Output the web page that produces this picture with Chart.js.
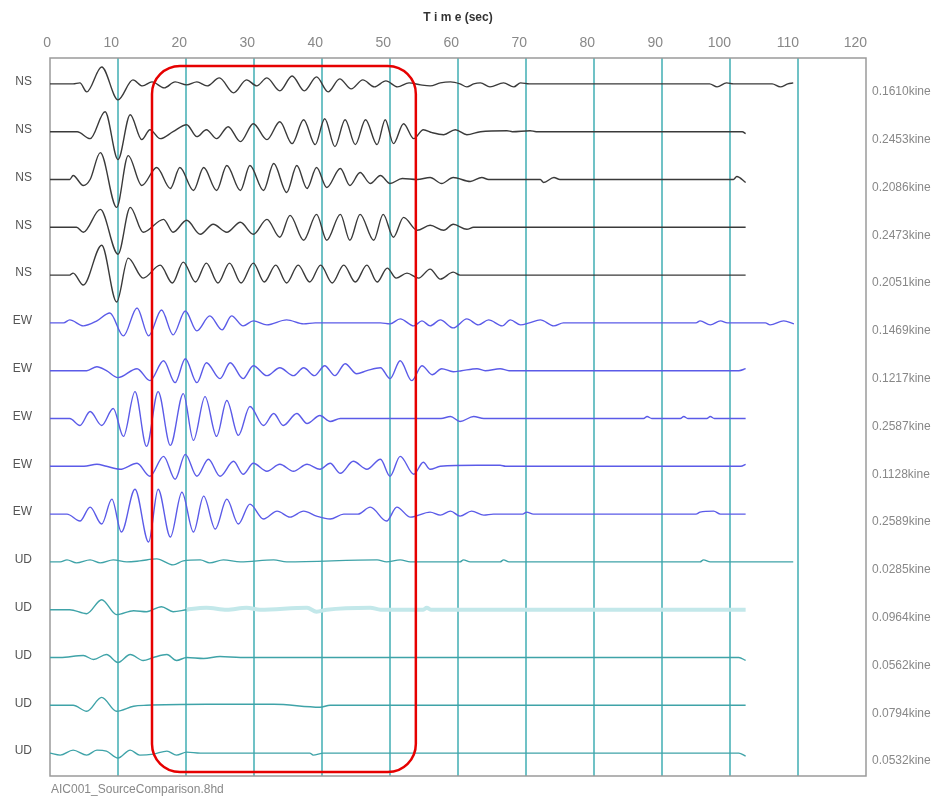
<!DOCTYPE html>
<html>
<head>
<meta charset="utf-8">
<script src="https://cdn.jsdelivr.net/npm/chart.js@4.4.0/dist/chart.umd.min.js"></script>
<style>
  html, body { margin: 0; padding: 0; background: #fff; }
  #wrap { position: relative; width: 942px; height: 805px; }
</style>
</head>
<body>
<div id="wrap"><canvas id="chart"></canvas></div>
<script>
// Трассы: пары [время, сек ; отклонение от нулевой линии]
const ns1 = [[0,0],[3.4,0],[4.4,1],[5.4,-8],[7.6,17],[10,-16],[12.2,4],[13.6,-2],[15,2],[16.8,-4],[18.4,2],[20.1,-1],[21.6,2],[23.1,-2],[24.9,6],[27,-9],[28.9,4],[30.4,-2],[31.9,6],[33.8,-7],[35.6,8],[37.4,-7],[39.2,7],[40.9,-8],[42.6,5],[44.3,-5],[46,4],[47.7,-3],[49.4,3],[51.1,-3],[52.8,1],[54.5,-1],[55.9,-2],[57.4,1],[58.9,2],[60.3,0],[61.3,-3],[62.3,0],[63.3,1],[64.7,-3],[66.7,1],[68.2,-3],[69.2,1],[70.5,0],[97,0],[98.1,-3],[99.5,1],[100.5,0],[106.2,0],[107.4,-3],[108.5,0],[109.3,1]];
const ns2 = [[0,0],[4,0],[5.9,-7],[8.1,20],[10,-28],[11.8,17],[13.5,-8],[14.7,2],[16.2,-7],[18.1,0],[20.1,7],[21.6,-5],[23,2],[24.5,-7],[26.2,5],[28,-10],[29.9,8],[31.9,-8],[33.8,10],[35.6,-12],[37.3,12],[39,-13],[40.4,13],[41.9,-15],[43.4,12],[44.9,-13],[46.4,12],[48.1,-13],[49.3,12],[50.5,-12],[52,8],[53.5,-7],[54.9,2],[56.2,-1],[57.9,-3],[59.6,2],[61.3,-3],[63.3,0],[67.2,1],[68,0],[70.6,1],[71.5,0],[101.8,0],[102.3,-2]];
const ns3 = [[0,0],[2.9,0],[3.4,4],[4.9,-6],[5.9,0],[7.4,27],[9.8,-28],[11.5,24],[13.5,-6],[15.7,12],[17.7,-9],[19.1,12],[21.1,-11],[22.6,12],[24.5,-11],[26,14],[28,-11],[29.4,14],[31.4,-11],[32.9,16],[34.8,-13],[36.3,14],[37.8,-9],[39.2,12],[40.7,-8],[42.7,11],[44.1,-6],[45.6,7],[47.1,-4],[48.6,4],[50,-4],[51.8,1],[54,0],[55.9,2],[57.6,-4],[59.3,2],[61.8,-2],[63.5,2],[64.5,0],[72.1,0],[72.6,-3],[74.1,2],[75,0],[100.5,0],[101,3],[102.3,-3]];
const ns4 = [[0,0],[3.9,0],[4.9,-5],[7.4,18],[10,-27],[11.8,20],[13.7,-5],[16.7,8],[18.1,-5],[20.1,7],[22.1,-7],[24,3],[26,-5],[28,5],[29.9,-7],[31.9,8],[33.8,-10],[35.3,12],[37.3,-13],[39.2,13],[40.7,-13],[42.7,13],[44.1,-13],[45.6,13],[47.6,-13],[49,13],[50.5,-10],[52,10],[54,-3],[55.9,2],[57.9,-3],[59.3,3],[61.3,-2],[62.3,0],[102.3,0]];
const ns5 = [[0,0],[2.9,0],[3.4,2],[4.9,-10],[7.6,30],[9.8,-27],[11.5,17],[13.7,-3],[16.2,10],[18,-8],[19.6,13],[21.4,-7],[23,12],[24.7,-8],[26.4,12],[28.1,-8],[29.9,12],[31.5,-7],[33.2,10],[34.8,-8],[36.5,10],[38.2,-7],[39.8,10],[41.5,-8],[43.2,10],[44.9,-7],[46.6,10],[48.1,-7],[49.6,7],[50.9,-3],[52.5,2],[54.2,-3],[55.9,6],[57.4,-4],[59.3,3],[60.3,0],[102.3,0]];
const ew1 = [[0,0],[2,0],[2.9,3],[4.9,-3],[6.9,2],[8.8,10],[10.8,-13],[12.8,15],[14.5,-13],[16.4,13],[18.1,-12],[19.9,12],[21.6,-8],[23.5,7],[25.3,-7],[26.7,7],[28.4,-3],[29.9,2],[31.9,-2],[34.8,3],[37.3,-1],[39,0],[48.6,0],[50,-1],[51.5,4],[53.5,-3],[54.7,2],[55.9,-3],[57.4,3],[59.3,-5],[61.3,4],[63,-2],[64.5,3],[66.5,-3],[67.7,3],[69.2,-2],[70.5,0],[72.1,3],[74.1,-3],[75.5,0],[95,0],[95.6,2],[97.1,-2],[98.6,2],[99.6,0],[105.2,0],[105.9,-2],[107.9,2],[109.4,-1]];
const ew2 = [[0,0],[5.4,0],[6.9,4],[8.3,0],[10,-7],[12.8,2],[14.7,-10],[16.7,10],[18.4,-12],[19.9,12],[21.6,-12],[23,8],[25,-8],[26.5,8],[28.4,-8],[29.9,5],[31.9,-5],[33.8,3],[35.8,-5],[37.3,3],[38.9,-5],[40.4,5],[41.9,-5],[43.4,7],[45.1,-3],[46.6,0],[48.6,3],[50,-8],[51.5,10],[53.2,-10],[54.7,5],[56.2,-4],[57.6,2],[59.3,-1],[60.5,0],[62.8,2],[64,0],[66.2,2],[67.5,0],[101.3,0],[102.3,2]];
const ew3 = [[0,0],[2.9,0],[4.4,-7],[5.9,7],[7.6,-7],[9.3,10],[10.8,-18],[12.5,27],[14.2,-28],[15.9,27],[17.7,-27],[19.6,25],[21.1,-22],[22.8,22],[24.5,-18],[26,18],[27.7,-17],[29.4,12],[31.4,-7],[32.9,5],[34.3,-7],[36.3,5],[37.8,-5],[39.7,3],[41.2,-3],[42.7,0],[57.5,0],[58.9,2],[60.3,-3],[62.3,2],[63.8,0],[87.3,0],[87.8,2],[88.5,0],[92.7,0],[93.2,2],[93.8,0],[96.6,0],[97.1,2],[97.7,0],[102.3,0]];
const ew4 = [[0,0],[5,0],[6.9,2],[8.3,0],[10.3,-3],[12.8,3],[14.7,-10],[16.7,10],[18.4,-13],[19.9,12],[21.6,-10],[23.3,7],[25,-10],[27,5],[28.4,-8],[29.9,3],[31.9,-5],[33.8,2],[35.8,-5],[37.8,2],[39.7,-3],[41.2,3],[42.7,-7],[44.6,5],[46.6,-3],[48.6,7],[50,-10],[51.5,10],[53.5,-8],[54.9,4],[55.9,-3],[57.4,0],[62.8,1],[66.2,1],[67,0],[101.6,0],[102.3,2]];
const ew5 = [[0,0],[2.5,0],[4.4,-7],[5.9,7],[7.6,-10],[9.1,15],[10.5,-18],[12.5,25],[14.5,-28],[15.9,25],[17.7,-23],[19.4,22],[21.1,-18],[22.6,18],[24.3,-15],[26,15],[27.7,-10],[29.4,10],[31.4,-5],[33.4,3],[35.3,-3],[37.3,3],[39.2,-2],[41.2,-5],[43.2,0],[45.3,0],[47.1,7],[49.5,-7],[51,7],[53,-3],[55.9,2],[57.4,-1],[58.9,3],[60.3,-2],[62,3],[63.8,-1],[65.2,0],[69.5,0],[70.1,2],[71.1,0],[95,0],[95.6,2],[97.6,3],[98.6,0],[102.3,0]];
const ud1 = [[0,0],[1.5,0],[2.5,2],[3.9,-1],[5.9,2],[7.4,-1],[9.3,2],[11.3,0],[13.2,1],[15.7,3],[18.1,-3],[19.6,1],[22.1,2],[23.5,-1],[25.5,2],[28,0],[32.9,2],[34.8,0],[48.1,2],[49.5,0],[51.5,2],[53,0],[60.3,0],[60.8,2],[61.8,0],[66.2,0],[66.7,2],[67.5,0],[95.6,0],[96.1,2],[97.1,0],[109.3,0]];
const ud2 = [[0,0],[2.9,0],[5.4,-4],[7.6,10],[9.8,-5],[12.3,-1],[14.2,-2],[16.4,3],[18.1,-2],[20.1,0],[23,2],[26,0],[28.9,2],[30.9,0],[37.8,2],[39.2,-2],[40.7,0],[47.1,2],[48.6,0],[54.9,0],[55.4,2],[56,0],[102.3,0]];
const ud3 = [[0,0],[1.5,0],[4.9,2],[6.4,-2],[8.3,3],[10,-5],[11.8,3],[13.7,-3],[15.2,0],[17.2,3],[18.6,-3],[20.1,0],[22.6,-1],[25,1],[28,0],[101.3,0],[102.3,-3]];
const ud4 = [[0,0],[3.4,0],[5.4,-6],[7.6,8],[9.8,-6],[12.3,-1],[14.2,0],[23,1],[32.9,1],[39.7,-2],[41.2,0],[102.3,0]];
const ud5 = [[0,0],[1.5,-2],[3.4,3],[5.4,-2],[6.9,3],[8.3,2],[10,-5],[11.8,3],[13.2,-2],[15.2,-1],[17.2,2],[18.6,-2],[20.1,1],[22.1,0],[38.2,0],[38.7,-2],[40.2,0],[101.3,0],[102.3,-3]];

const traces = [ns1, ns2, ns3, ns4, ns5, ew1, ew2, ew3, ew4, ew5, ud1, ud2, ud3, ud4, ud5];
const components = ['NS','NS','NS','NS','NS','EW','EW','EW','EW','EW','UD','UD','UD','UD','UD'];
const peakLabels = ['0.1610kine','0.2453kine','0.2086kine','0.2473kine','0.2051kine',
  '0.1469kine','0.1217kine','0.2587kine','0.1128kine','0.2589kine',
  '0.0285kine','0.0964kine','0.0562kine','0.0794kine','0.0532kine'];
const timeTicks = [0,10,20,30,40,50,60,70,80,90,100,110,120];

const SPACING = 48; // шаг между нулевыми линиями трасс
const colors = { NS: '#3a3a3a', EW: '#5b5be8', UD: '#3fa3a8' };

// Выделение красной рамкой
const highlight = { t0: 15.0, t1: 53.8, top: 18, bottom: -691, radius: 28 };

const datasets = traces.map((tr, i) => ({
  label: components[i] + ' ' + peakLabels[i],
  data: tr.map(([t, a]) => ({ x: t, y: a - SPACING * i })),
  borderColor: colors[components[i]],
  borderWidth: 1.4,
  pointRadius: 0,
  fill: false,
  cubicInterpolationMode: 'monotone'
}));
// вторая UD трасса нарисована толстой бледной линией
datasets[11].segment = {
  borderColor: c => c.p0.parsed.x >= 20 ? '#c3e8ea' : undefined,
  borderWidth: c => c.p0.parsed.x >= 20 ? 4 : undefined
};

const traceTicks = axis => {
  axis.ticks = traces.map((_, i) => ({ value: -SPACING * i }));
};
const traceIndex = v => Math.round(-v / SPACING);

const framePlugin = {
  id: 'frame',
  beforeDatasetsDraw(chart) {
    const { ctx, chartArea: a } = chart;
    ctx.save();
    ctx.strokeStyle = '#9a9a9a';
    ctx.lineWidth = 1.5;
    ctx.strokeRect(a.left, a.top, a.right - a.left, a.bottom - a.top);
    ctx.restore();
  },
  afterDraw(chart) {
    const { ctx, chartArea: a, scales } = chart;
    ctx.save();
    // подпись файла
    ctx.fillStyle = '#888';
    ctx.font = '12px "Liberation Sans", Arial, sans-serif';
    ctx.textBaseline = 'middle';
    ctx.fillText('AIC001_SourceComparison.8hd', a.left + 1, a.bottom + 14);
    // красная рамка
    const x0 = scales.x.getPixelForValue(highlight.t0);
    const x1 = scales.x.getPixelForValue(highlight.t1);
    const y0 = scales.y.getPixelForValue(highlight.top);
    const y1 = scales.y.getPixelForValue(highlight.bottom);
    ctx.strokeStyle = '#e60000';
    ctx.lineWidth = 2.5;
    ctx.beginPath();
    ctx.roundRect(x0, y0, x1 - x0, y1 - y0, highlight.radius);
    ctx.stroke();
    ctx.restore();
  }
};

new Chart(document.getElementById('chart'), {
  type: 'line',
  data: { datasets },
  plugins: [framePlugin],
  options: {
    responsive: true,
    maintainAspectRatio: false,
    animation: false,
    devicePixelRatio: 1,
    layout: { padding: { top: 0, right: 0, bottom: 29, left: 0 } },
    plugins: { legend: { display: false }, tooltip: { enabled: false } },
    scales: {
      x: {
        type: 'linear',
        position: 'top',
        min: 0,
        max: 120,
        afterBuildTicks: axis => { axis.ticks = timeTicks.map(v => ({ value: v })); },
        afterFit: s => { s.height = 58; },
        ticks: {
          color: '#888',
          font: { family: '"Liberation Sans", Arial, sans-serif', size: 14 },
          align: 'end',
          labelOffset: 1,
          padding: 6,
          maxRotation: 0
        },
        grid: {
          drawTicks: false,
          lineWidth: 2,
          color: c => (c.tick && (c.tick.value === 0 || c.tick.value === 120)) ? 'rgba(0,0,0,0)' : 'rgb(112,194,198)'
        },
        border: { display: false },
        title: {
          display: true,
          text: 'T i m e (sec)',
          color: '#333',
          font: { family: '"Liberation Sans", Arial, sans-serif', size: 12, weight: 'bold' },
          padding: { top: 10, bottom: 2 }
        }
      },
      y: {
        type: 'linear',
        position: 'left',
        min: -695,
        max: 26,
        afterBuildTicks: traceTicks,
        afterFit: s => { s.width = 50; },
        ticks: {
          color: '#555',
          font: { family: '"Liberation Sans", Arial, sans-serif', size: 12 },
          padding: 18,
          labelOffset: -2,
          callback: v => components[traceIndex(v)]
        },
        grid: { display: false, drawTicks: false },
        border: { display: false }
      },
      y2: {
        type: 'linear',
        position: 'right',
        min: -695,
        max: 26,
        afterBuildTicks: traceTicks,
        afterFit: s => { s.width = 76; },
        ticks: {
          color: '#888',
          font: { family: '"Liberation Sans", Arial, sans-serif', size: 12 },
          padding: 6,
          labelOffset: 8,
          callback: v => peakLabels[traceIndex(v)]
        },
        grid: { display: false, drawTicks: false },
        border: { display: false }
      }
    }
  }
});
</script>
</body>
</html>
